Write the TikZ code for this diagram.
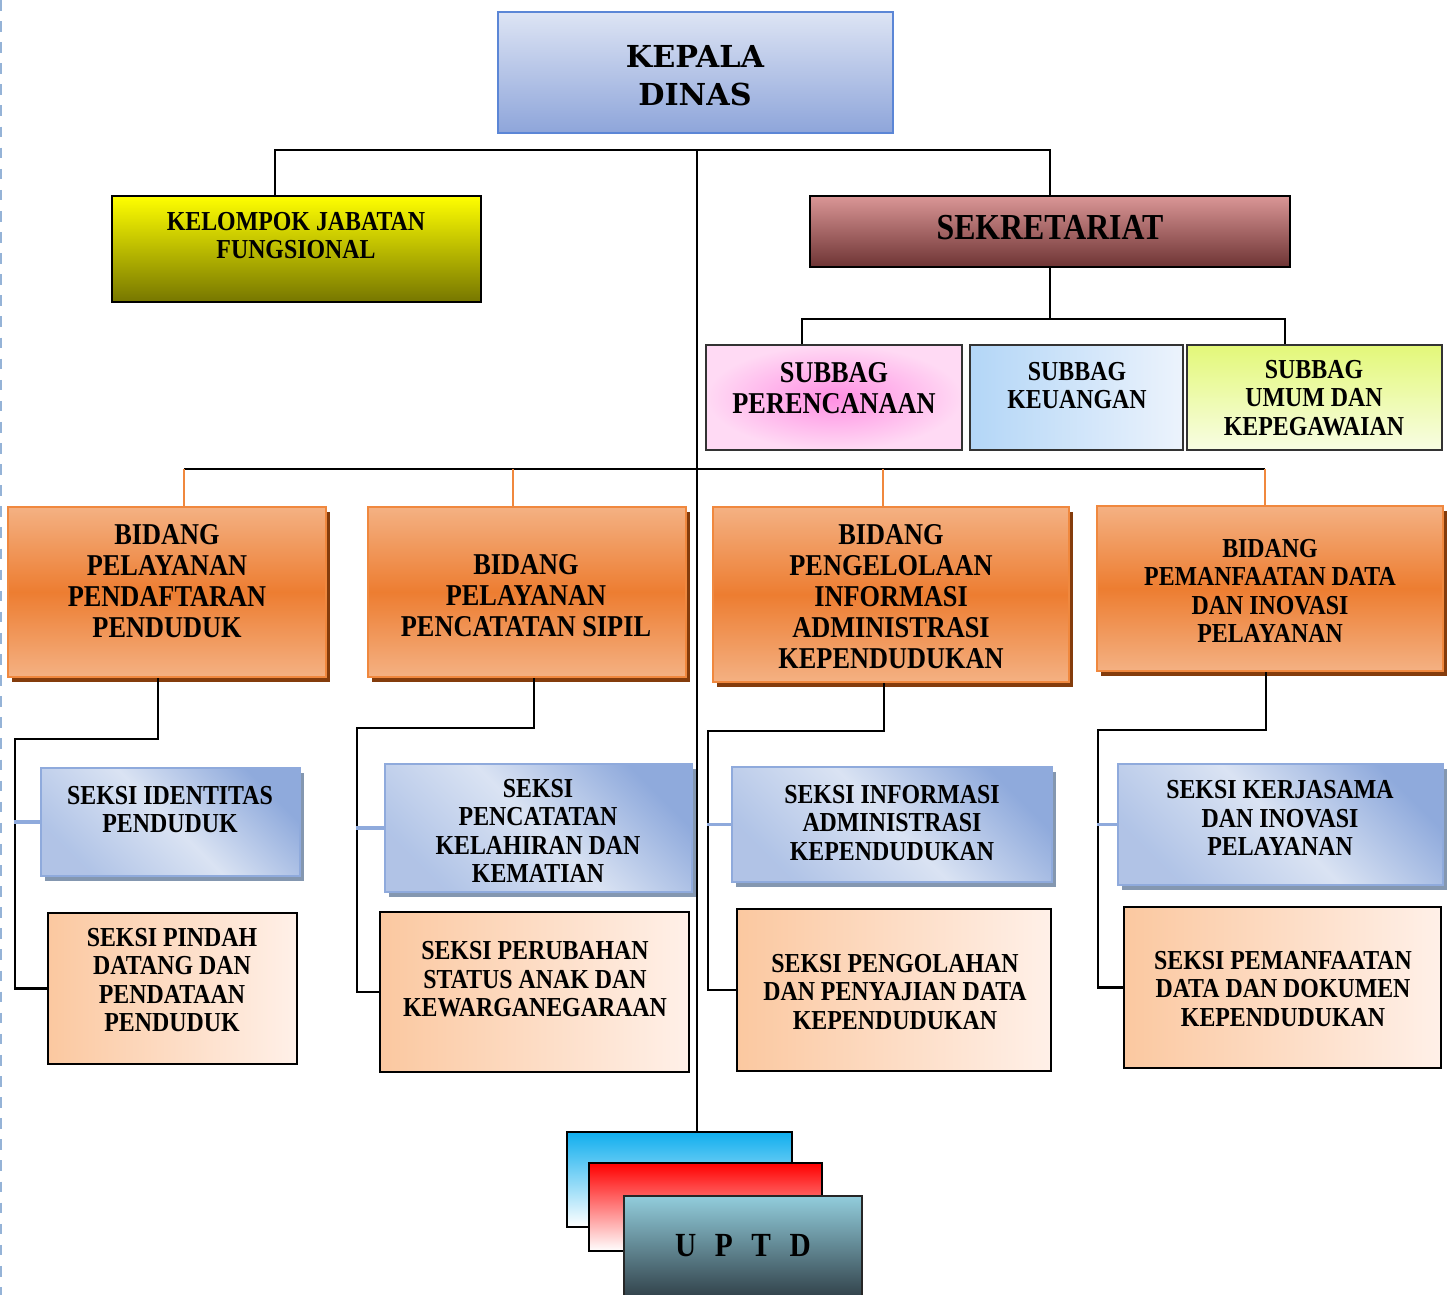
\documentclass[tikz,border=0pt]{standalone}
\usepackage{fontspec}
\usetikzlibrary{shadows}
\newfontfamily\orgfont[FakeStretch=0.87]{Liberation Serif}
\newfontfamily\headfont{DejaVu Serif}

\definecolor{kepTop}{HTML}{DDE4F4}
\definecolor{kepBot}{HTML}{8EA5DA}
\definecolor{kepLine}{HTML}{5B86D6}
\definecolor{kjfTop}{HTML}{FFFF00}
\definecolor{kjfBot}{HTML}{767600}
\definecolor{sekTop}{HTML}{DA9696}
\definecolor{sekBot}{HTML}{6E3434}
\definecolor{pinkIn}{HTML}{FF8FE3}
\definecolor{pinkOut}{HTML}{FFDAF4}
\definecolor{kuLeft}{HTML}{B3D6F7}
\definecolor{kuRight}{HTML}{ECF3FC}
\definecolor{umTop}{HTML}{E3F879}
\definecolor{umBot}{HTML}{F8FDE3}
\definecolor{bidLight}{HTML}{F4B183}
\definecolor{bidMid}{HTML}{ED7D31}
\definecolor{bidLine}{HTML}{F0883E}
\definecolor{bidShadow}{HTML}{843C0C}
\definecolor{sekLight}{HTML}{DAE3F3}
\definecolor{sekDark}{HTML}{8FAADC}
\definecolor{sekShadow}{HTML}{8497B0}
\definecolor{peachL}{HTML}{FBC8A0}
\definecolor{peachR}{HTML}{FFF0E8}
\definecolor{upBlue}{HTML}{10AEEE}
\definecolor{upRed}{HTML}{FF0000}
\definecolor{upTeal}{HTML}{92CDDC}
\definecolor{upDark}{HTML}{2F3E46}
\definecolor{marginBlue}{HTML}{95B3D7}

\tikzset{
  box/.style={draw, line width=0.6pt, inner sep=0pt},
  line/.style={draw=black, line width=0.6pt},
  orline/.style={draw=bidLine, line width=0.6pt},
  blueline/.style={draw=sekDark, line width=0.9pt},
  bidang/.style={box, draw=bidLine, top color=bidLight, bottom color=bidLight, middle color=bidMid,
    general shadow={fill=bidShadow, shadow xshift=0.04cm, shadow yshift=-0.05cm}},
  seksi/.style={box, draw=sekDark, top color=sekDark, bottom color=sekDark!70, middle color=sekLight, shading angle=-45,
    general shadow={fill=sekShadow, shadow xshift=0.04cm, shadow yshift=-0.05cm}},
  peach/.style={box, left color=peachL, right color=peachR},
  bigtxt/.style={font=\orgfont\bfseries\fontsize{8.6}{8.8}\selectfont, align=center, inner sep=0pt},
  smalltxt/.style={font=\orgfont\bfseries\fontsize{7.8}{8.1}\selectfont, align=center, inner sep=0pt}
}

\begin{document}
\begin{tikzpicture}[x=0.01cm,y=-0.01cm]
\useasboundingbox (0,0) rectangle (1449,1295);
\draw[marginBlue, dashed, line width=0.6pt] (1,0) -- (1,1295);

% kepala dan sekretariat
\node[box, draw=kepLine, line width=0.5pt, top color=kepTop, bottom color=kepBot,
  minimum width=3.95cm, minimum height=1.21cm] (kepala) at (695.5,72.5) {};
\node[font=\headfont\bfseries\fontsize{8.6}{10.8}\selectfont, align=center, inner sep=0pt] (kepalat) at (695,76) {KEPALA\\DINAS};
\node[box, top color=kjfTop, bottom color=kjfBot, minimum width=3.69cm, minimum height=1.06cm] (kjf) at (296.5,249) {};
\node[smalltxt] (kjft) at (296,235.5) {KELOMPOK JABATAN\\FUNGSIONAL};
\node[box, top color=sekTop, bottom color=sekBot, minimum width=4.80cm, minimum height=0.71cm] (sek) at (1050,231.5) {};
\node[font=\orgfont\bfseries\fontsize{10.4}{11}\selectfont, inner sep=0pt] (sekt) at (1050,228) {SEKRETARIAT};

% subbag
\node[box, draw=black!80, inner color=pinkIn, outer color=pinkOut, minimum width=2.56cm, minimum height=1.05cm] (sbp) at (834,397.5) {};
\node[bigtxt] (sbpt) at (834,388.5) {SUBBAG\\PERENCANAAN};
\node[box, draw=black!80, left color=kuLeft, right color=kuRight, minimum width=2.13cm, minimum height=1.05cm] (sbk) at (1076.5,397.5) {};
\node[smalltxt] (sbkt) at (1077,385.5) {SUBBAG\\KEUANGAN};
\node[box, draw=black!80, top color=umTop, bottom color=umBot, minimum width=2.55cm, minimum height=1.05cm] (sbu) at (1314.5,397.5) {};
\node[smalltxt] (sbut) at (1314,398) {SUBBAG\\UMUM DAN\\KEPEGAWAIAN};

% bidang
\node[bidang, minimum width=3.18cm, minimum height=1.70cm] (bid1) at (167,592) {};
\node[bigtxt] (bid1t) at (167,581) {BIDANG\\PELAYANAN\\PENDAFTARAN\\PENDUDUK};
\node[bidang, minimum width=3.18cm, minimum height=1.70cm] (bid2) at (527,592) {};
\node[bigtxt] (bid2t) at (526,596) {BIDANG\\PELAYANAN\\PENCATATAN SIPIL};
\node[bidang, minimum width=3.56cm, minimum height=1.75cm] (bid3) at (891,594.5) {};
\node[bigtxt] (bid3t) at (891,597) {BIDANG\\PENGELOLAAN\\INFORMASI\\ADMINISTRASI\\KEPENDUDUKAN};
\node[bidang, minimum width=3.46cm, minimum height=1.65cm] (bid4) at (1270,588.5) {};
\node[smalltxt] (bid4t) at (1270,591) {BIDANG\\PEMANFAATAN DATA\\DAN INOVASI\\PELAYANAN};

% seksi
\node[seksi, minimum width=2.59cm, minimum height=1.08cm] (sa1) at (170.5,822) {};
\node[smalltxt] (sa1t) at (170,809.5) {SEKSI IDENTITAS\\PENDUDUK};
\node[seksi, minimum width=3.07cm, minimum height=1.28cm] (sa2) at (538.5,828) {};
\node[smalltxt] (sa2t) at (538,831) {SEKSI\\PENCATATAN\\KELAHIRAN DAN\\KEMATIAN};
\node[seksi, minimum width=3.20cm, minimum height=1.15cm] (sa3) at (892,824.5) {};
\node[smalltxt] (sa3t) at (892,823) {SEKSI INFORMASI\\ADMINISTRASI\\KEPENDUDUKAN};
\node[seksi, minimum width=3.25cm, minimum height=1.21cm] (sa4) at (1280.5,824.5) {};
\node[smalltxt] (sa4t) at (1280,818) {SEKSI KERJASAMA\\DAN INOVASI\\PELAYANAN};

\node[peach, minimum width=2.49cm, minimum height=1.51cm] (sb1) at (172.5,988.5) {};
\node[smalltxt] (sb1t) at (172,980) {SEKSI PINDAH\\DATANG DAN\\PENDATAAN\\PENDUDUK};
\node[peach, minimum width=3.09cm, minimum height=1.60cm] (sb2) at (534.5,992) {};
\node[smalltxt] (sb2t) at (535,979.5) {SEKSI PERUBAHAN\\STATUS ANAK DAN\\KEWARGANEGARAAN};
\node[peach, minimum width=3.14cm, minimum height=1.62cm] (sb3) at (894,990) {};
\node[smalltxt] (sb3t) at (895,992) {SEKSI PENGOLAHAN\\DAN PENYAJIAN DATA\\KEPENDUDUKAN};
\node[peach, minimum width=3.17cm, minimum height=1.61cm] (sb4) at (1282.5,987.5) {};
\node[smalltxt] (sb4t) at (1283,989) {SEKSI PEMANFAATAN\\DATA DAN DOKUMEN\\KEPENDUDUKAN};

% uptd
\node[box, top color=upBlue, bottom color=white, minimum width=2.25cm, minimum height=0.95cm] (uptd1) at (679.5,1179.5) {};
\node[box, top color=upRed, bottom color=white, minimum width=2.33cm, minimum height=0.88cm] (uptd2) at (705.5,1207) {};
\node[box, draw=black!85, top color=upTeal, bottom color=upDark, minimum width=2.38cm, minimum height=1.04cm] (uptd3) at (743,1248) {};
\node[font=\orgfont\bfseries\fontsize{9.6}{10}\selectfont, inner sep=0pt] (uptdt) at (743,1246) {\spaceskip=0.55em\relax U P T D};

% garis
\coordinate (hub) at (697,150);
\draw[line] ([xshift=-0.215cm]kjf.north) |- (hub) -| (sek.north);
\draw[line] (hub) -- (hub |- uptd1.north);

\coordinate (sekbus) at (sek.south |- 0,319);
\draw[line] (sek.south) -- (sekbus);
\draw[line] ([xshift=-0.32cm]sbp.north) |- (sekbus) -| ([xshift=-0.295cm]sbu.north);

\coordinate (bus) at (697,469);
\draw[line] ([xshift=0.17cm]bid1.north |- bus) -- ([xshift=-0.05cm]bid4.north |- bus);
\foreach \b/\dx in {1/0.17,2/-0.14,3/-0.08,4/-0.05}
  \draw[orline] ([xshift=\dx cm]bid\b.north) -- ([xshift=\dx cm]bid\b.north |- bus);

\foreach \b/\dx/\dn/\lf/\st in {1/-0.09/61/143/26,2/0.07/50/177/28,3/-0.07/48/176/24,4/-0.04/58/168/20} {
  \draw[line] ([xshift=\dx cm]bid\b.south) -- ++(0,\dn) -- ++(-\lf,0) |- (sb\b.west);
  \draw[blueline] (sa\b.west) -- ++(-\st,0);
}
\end{tikzpicture}
\end{document}
